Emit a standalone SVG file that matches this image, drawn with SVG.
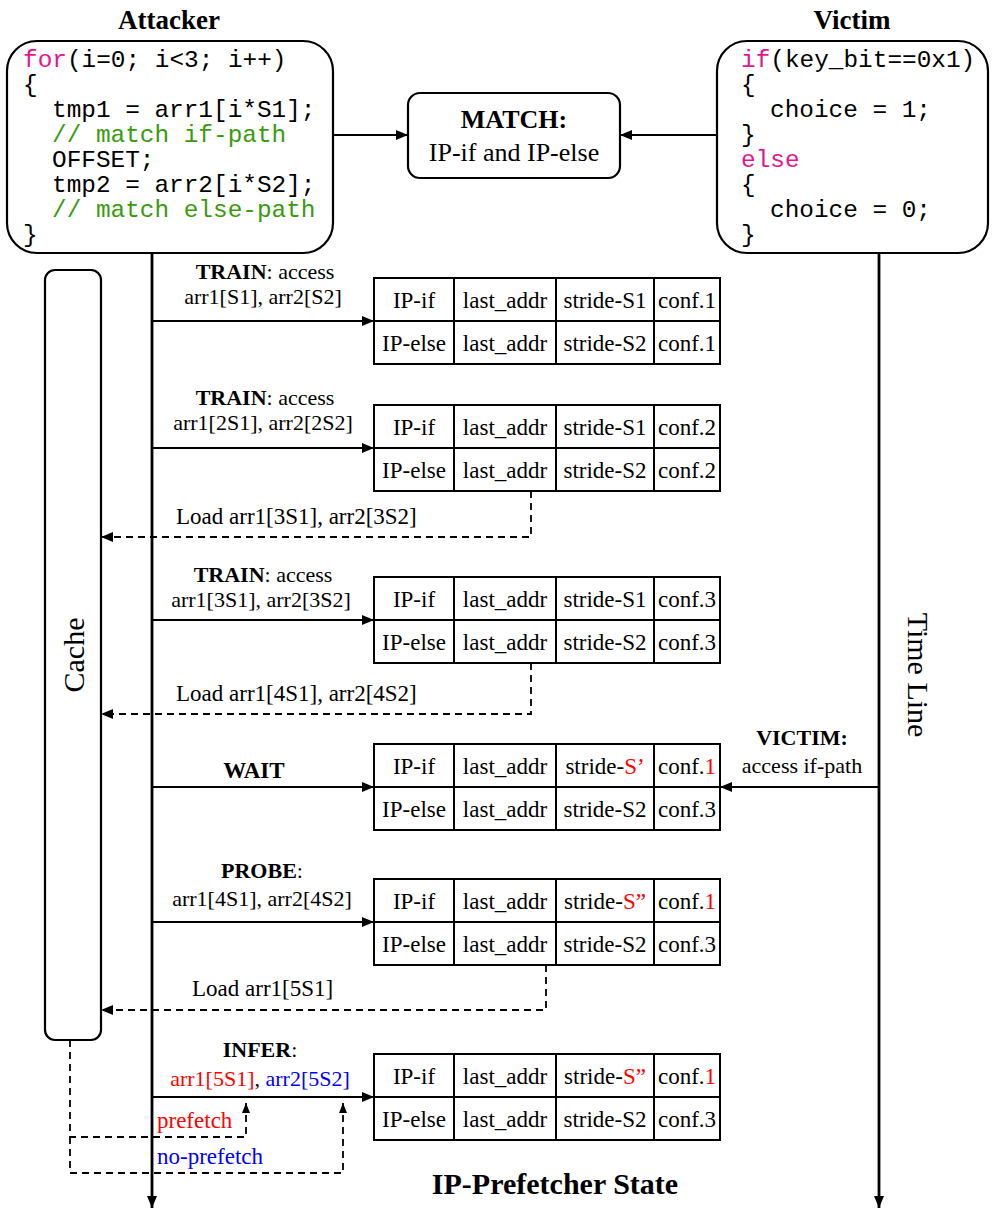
<svg xmlns="http://www.w3.org/2000/svg" width="997" height="1211" viewBox="0 0 997 1211">
<defs>
<marker id="ah" markerWidth="12" markerHeight="10" refX="12" refY="5" orient="auto" markerUnits="userSpaceOnUse"><path d="M0,0 L12,5 L0,10 z" fill="#000"/></marker>
<marker id="ahs" markerWidth="10" markerHeight="8" refX="10" refY="4" orient="auto" markerUnits="userSpaceOnUse"><path d="M0,0 L10,4 L0,8 z" fill="#000"/></marker>
<style>
.code{font-family:"Liberation Mono","DejaVu Sans Mono",monospace;font-size:24.4px;fill:#000}
.kw{fill:#e5158f}
.cm{fill:#3a9a10}
.t{font-family:"Liberation Serif","Times New Roman",serif;font-size:23px;fill:#000}
.l{font-size:22px}
.b{font-weight:bold}
.mid{text-anchor:middle}
.box{fill:#fff;stroke:#000;stroke-width:2.2}
.cell{fill:#fff;stroke:#000;stroke-width:2}
.ln{stroke:#000;stroke-width:1.8;fill:none}
.tl{stroke:#000;stroke-width:2.8;fill:none}
.dash{stroke:#000;stroke-width:1.8;fill:none;stroke-dasharray:7,5}
.red{fill:#ff0000}
.blue{fill:#0000ff}
</style>
</defs>

<g id="connectors">
<line class="tl" x1="152" y1="253" x2="152" y2="1208" marker-end="url(#ah)"/>
<line class="tl" x1="879" y1="253" x2="879" y2="1208" marker-end="url(#ah)"/>
<line class="ln" x1="333" y1="135" x2="408" y2="135" marker-end="url(#ah)"/>
<line class="ln" x1="717" y1="135" x2="620" y2="135" marker-end="url(#ah)"/>
<line class="ln" x1="152" y1="321" x2="374" y2="321" marker-end="url(#ah)"/>
<line class="ln" x1="152" y1="448" x2="374" y2="448" marker-end="url(#ah)"/>
<line class="ln" x1="152" y1="620" x2="374" y2="620" marker-end="url(#ah)"/>
<line class="ln" x1="152" y1="787" x2="374" y2="787" marker-end="url(#ah)"/>
<line class="ln" x1="879" y1="787" x2="720" y2="787" marker-end="url(#ah)"/>
<line class="ln" x1="152" y1="922" x2="374" y2="922" marker-end="url(#ah)"/>
<line class="ln" x1="152" y1="1097" x2="374" y2="1097" marker-end="url(#ah)"/>
<polyline class="dash" points="531,491 531,537 101,537" marker-end="url(#ah)"/>
<polyline class="dash" points="531,663 531,714 101,714" marker-end="url(#ah)"/>
<polyline class="dash" points="546,965 546,1010 101,1010" marker-end="url(#ah)"/>
<polyline class="dash" points="70,1040 70,1137 246,1137 246,1103" marker-end="url(#ahs)"/>
<polyline class="dash" points="70,1137 70,1173 343,1173 343,1103" marker-end="url(#ahs)"/>
</g>

<g id="attacker">
<text class="t b mid" x="169" y="29" style="font-size:27px">Attacker</text>
<rect class="box" x="7" y="41" width="326" height="212" rx="30"/>
<text class="code" x="23" y="67"><tspan class="kw">for</tspan>(i=0; i&lt;3; i++)</text>
<text class="code" x="23" y="92">{</text>
<text class="code" x="52" y="117">tmp1 = arr1[i*S1];</text>
<text class="code cm" x="52" y="142">// match if-path</text>
<text class="code" x="52" y="167">OFFSET;</text>
<text class="code" x="52" y="192">tmp2 = arr2[i*S2];</text>
<text class="code cm" x="52" y="217">// match else-path</text>
<text class="code" x="23" y="242">}</text>
</g>

<g id="victim">
<text class="t b mid" x="852" y="29" style="font-size:27px">Victim</text>
<rect class="box" x="717" y="41" width="271" height="212" rx="30"/>
<text class="code" x="741" y="67"><tspan class="kw">if</tspan>(key_bit==0x1)</text>
<text class="code" x="741" y="92">{</text>
<text class="code" x="770" y="117">choice = 1;</text>
<text class="code" x="741" y="142">}</text>
<text class="code kw" x="741" y="167">else</text>
<text class="code" x="741" y="192">{</text>
<text class="code" x="770" y="217">choice = 0;</text>
<text class="code" x="741" y="242">}</text>
</g>

<g id="match">
<rect class="box" x="408" y="93" width="212" height="85" rx="12"/>
<text class="t b mid" x="514" y="128" style="font-size:26px">MATCH:</text>
<text class="t mid" x="514" y="161" style="font-size:26px">IP-if and IP-else</text>
</g>

<g id="cache">
<rect class="box" x="45" y="270" width="56" height="770" rx="10"/>
<text class="t mid" transform="translate(84,655) rotate(-90)" style="font-size:30px">Cache</text>
</g>

<g id="timeline-label">
<text class="t mid" transform="translate(908,675) rotate(90)" style="font-size:30px">Time Line</text>
</g>

<g id="labels">
<text class="t l mid" x="265" y="279"><tspan class="b">TRAIN</tspan>: access</text>
<text class="t l mid" x="263" y="304">arr1[S1], arr2[S2]</text>
<text class="t l mid" x="265" y="405"><tspan class="b">TRAIN</tspan>: access</text>
<text class="t l mid" x="263" y="430">arr1[2S1], arr2[2S2]</text>
<text class="t" x="176" y="524">Load arr1[3S1], arr2[3S2]</text>
<text class="t l mid" x="263" y="582"><tspan class="b">TRAIN</tspan>: access</text>
<text class="t l mid" x="261" y="607">arr1[3S1], arr2[3S2]</text>
<text class="t" x="176" y="701">Load arr1[4S1], arr2[4S2]</text>
<text class="t b mid" x="254" y="778">WAIT</text>
<text class="t l b mid" x="802" y="745">VICTIM:</text>
<text class="t l mid" x="802" y="773">access if-path</text>
<text class="t l mid" x="262" y="878"><tspan class="b">PROBE</tspan>:</text>
<text class="t l mid" x="262" y="906">arr1[4S1], arr2[4S2]</text>
<text class="t" x="192" y="996">Load arr1[5S1]</text>
<text class="t l mid" x="260" y="1057"><tspan class="b">INFER</tspan>:</text>
<text class="t l mid" x="260" y="1086"><tspan class="red">arr1[5S1]</tspan>, <tspan class="blue">arr2[5S2]</tspan></text>
<text class="t red" x="157" y="1128">prefetch</text>
<text class="t blue" x="157" y="1164">no-prefetch</text>
<text class="t b mid" x="555" y="1194" style="font-size:30px">IP-Prefetcher State</text>
</g>

<g id="table1">
<rect class="cell" x="374" y="278" width="346" height="86"/>
<path class="ln" d="M374,321H720M454,278V364M556,278V364M654,278V364" style="stroke-width:2"/>
<text class="t mid" x="414" y="308">IP-if</text><text class="t mid" x="505" y="308">last_addr</text><text class="t mid" x="605" y="308">stride-S1</text><text class="t mid" x="687" y="308">conf.1</text>
<text class="t mid" x="414" y="351">IP-else</text><text class="t mid" x="505" y="351">last_addr</text><text class="t mid" x="605" y="351">stride-S2</text><text class="t mid" x="687" y="351">conf.1</text>
</g>

<g id="table2">
<rect class="cell" x="374" y="405" width="346" height="86"/>
<path class="ln" d="M374,448H720M454,405V491M556,405V491M654,405V491" style="stroke-width:2"/>
<text class="t mid" x="414" y="435">IP-if</text><text class="t mid" x="505" y="435">last_addr</text><text class="t mid" x="605" y="435">stride-S1</text><text class="t mid" x="687" y="435">conf.2</text>
<text class="t mid" x="414" y="478">IP-else</text><text class="t mid" x="505" y="478">last_addr</text><text class="t mid" x="605" y="478">stride-S2</text><text class="t mid" x="687" y="478">conf.2</text>
</g>

<g id="table3">
<rect class="cell" x="374" y="577" width="346" height="86"/>
<path class="ln" d="M374,620H720M454,577V663M556,577V663M654,577V663" style="stroke-width:2"/>
<text class="t mid" x="414" y="607">IP-if</text><text class="t mid" x="505" y="607">last_addr</text><text class="t mid" x="605" y="607">stride-S1</text><text class="t mid" x="687" y="607">conf.3</text>
<text class="t mid" x="414" y="650">IP-else</text><text class="t mid" x="505" y="650">last_addr</text><text class="t mid" x="605" y="650">stride-S2</text><text class="t mid" x="687" y="650">conf.3</text>
</g>

<g id="table4">
<rect class="cell" x="374" y="744" width="346" height="86"/>
<path class="ln" d="M374,787H720M454,744V830M556,744V830M654,744V830" style="stroke-width:2"/>
<text class="t mid" x="414" y="774">IP-if</text><text class="t mid" x="505" y="774">last_addr</text><text class="t mid" x="605" y="774">stride-<tspan class="red">S’</tspan></text><text class="t mid" x="687" y="774">conf.<tspan class="red">1</tspan></text>
<text class="t mid" x="414" y="817">IP-else</text><text class="t mid" x="505" y="817">last_addr</text><text class="t mid" x="605" y="817">stride-S2</text><text class="t mid" x="687" y="817">conf.3</text>
</g>

<g id="table5">
<rect class="cell" x="374" y="879" width="346" height="86"/>
<path class="ln" d="M374,922H720M454,879V965M556,879V965M654,879V965" style="stroke-width:2"/>
<text class="t mid" x="414" y="909">IP-if</text><text class="t mid" x="505" y="909">last_addr</text><text class="t mid" x="605" y="909">stride-<tspan class="red">S”</tspan></text><text class="t mid" x="687" y="909">conf.<tspan class="red">1</tspan></text>
<text class="t mid" x="414" y="952">IP-else</text><text class="t mid" x="505" y="952">last_addr</text><text class="t mid" x="605" y="952">stride-S2</text><text class="t mid" x="687" y="952">conf.3</text>
</g>

<g id="table6">
<rect class="cell" x="374" y="1054" width="346" height="86"/>
<path class="ln" d="M374,1097H720M454,1054V1140M556,1054V1140M654,1054V1140" style="stroke-width:2"/>
<text class="t mid" x="414" y="1084">IP-if</text><text class="t mid" x="505" y="1084">last_addr</text><text class="t mid" x="605" y="1084">stride-<tspan class="red">S”</tspan></text><text class="t mid" x="687" y="1084">conf.<tspan class="red">1</tspan></text>
<text class="t mid" x="414" y="1127">IP-else</text><text class="t mid" x="505" y="1127">last_addr</text><text class="t mid" x="605" y="1127">stride-S2</text><text class="t mid" x="687" y="1127">conf.3</text>
</g>
</svg>
